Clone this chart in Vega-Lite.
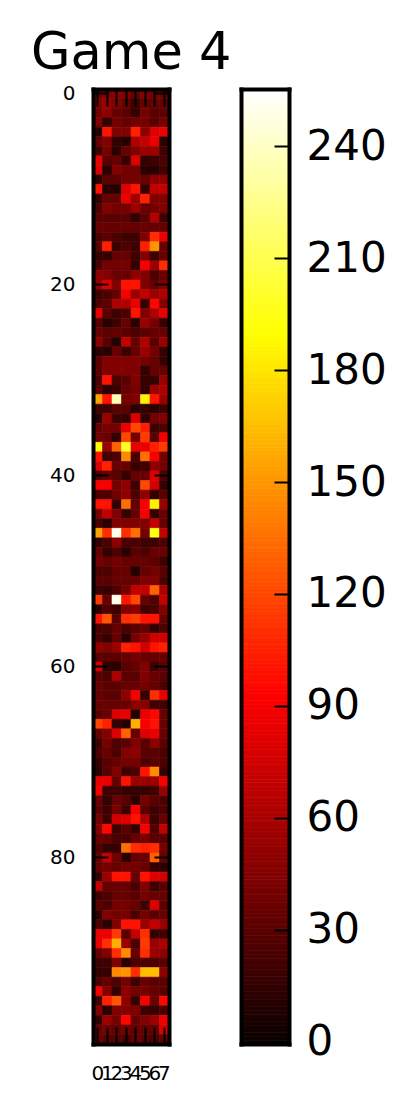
{"$schema":"https://vega.github.io/schema/vega-lite/v6.json","background":"white","padding":{"left":31,"top":28,"right":5,"bottom":5},"config":{"view":{"stroke":null},"font":"DejaVu Sans","axis":{"labelFont":"DejaVu Sans","labelColor":"black","tickColor":"black","domainColor":"black","domainCap":"square","labelOverlap":false,"labelBound":false}},"bounds":"flush","spacing":72,"datasets":{"cells":[
{"r":0,"c":0,"v":40},{"r":0,"c":1,"v":45},{"r":0,"c":2,"v":50},{"r":0,"c":3,"v":45},{"r":0,"c":4,"v":35},{"r":0,"c":5,"v":45},{"r":0,"c":6,"v":40},{"r":0,"c":7,"v":40},
{"r":1,"c":0,"v":45},{"r":1,"c":1,"v":55},{"r":1,"c":2,"v":45},{"r":1,"c":3,"v":35},{"r":1,"c":4,"v":20},{"r":1,"c":5,"v":35},{"r":1,"c":6,"v":35},{"r":1,"c":7,"v":35},
{"r":2,"c":0,"v":40},{"r":2,"c":1,"v":50},{"r":2,"c":2,"v":35},{"r":2,"c":3,"v":30},{"r":2,"c":4,"v":16},{"r":2,"c":5,"v":40},{"r":2,"c":6,"v":30},{"r":2,"c":7,"v":30},
{"r":3,"c":0,"v":45},{"r":3,"c":1,"v":16},{"r":3,"c":2,"v":40},{"r":3,"c":3,"v":35},{"r":3,"c":4,"v":40},{"r":3,"c":5,"v":40},{"r":3,"c":6,"v":30},{"r":3,"c":7,"v":40},
{"r":4,"c":0,"v":10},{"r":4,"c":1,"v":100},{"r":4,"c":2,"v":45},{"r":4,"c":3,"v":45},{"r":4,"c":4,"v":105},{"r":4,"c":5,"v":50},{"r":4,"c":6,"v":80},{"r":4,"c":7,"v":85},
{"r":5,"c":0,"v":35},{"r":5,"c":1,"v":45},{"r":5,"c":2,"v":16},{"r":5,"c":3,"v":10},{"r":5,"c":4,"v":62},{"r":5,"c":5,"v":70},{"r":5,"c":6,"v":85},{"r":5,"c":7,"v":12},
{"r":6,"c":0,"v":20},{"r":6,"c":1,"v":40},{"r":6,"c":2,"v":12},{"r":6,"c":3,"v":35},{"r":6,"c":4,"v":45},{"r":6,"c":5,"v":55},{"r":6,"c":6,"v":55},{"r":6,"c":7,"v":20},
{"r":7,"c":0,"v":85},{"r":7,"c":1,"v":30},{"r":7,"c":2,"v":35},{"r":7,"c":3,"v":16},{"r":7,"c":4,"v":80},{"r":7,"c":5,"v":16},{"r":7,"c":6,"v":20},{"r":7,"c":7,"v":25},
{"r":8,"c":0,"v":80},{"r":8,"c":1,"v":12},{"r":8,"c":2,"v":45},{"r":8,"c":3,"v":40},{"r":8,"c":4,"v":40},{"r":8,"c":5,"v":12},{"r":8,"c":6,"v":12},{"r":8,"c":7,"v":20},
{"r":9,"c":0,"v":12},{"r":9,"c":1,"v":30},{"r":9,"c":2,"v":30},{"r":9,"c":3,"v":40},{"r":9,"c":4,"v":40},{"r":9,"c":5,"v":35},{"r":9,"c":6,"v":50},{"r":9,"c":7,"v":50},
{"r":10,"c":0,"v":100},{"r":10,"c":1,"v":12},{"r":10,"c":2,"v":10},{"r":10,"c":3,"v":80},{"r":10,"c":4,"v":100},{"r":10,"c":5,"v":16},{"r":10,"c":6,"v":70},{"r":10,"c":7,"v":70},
{"r":11,"c":0,"v":16},{"r":11,"c":1,"v":35},{"r":11,"c":2,"v":35},{"r":11,"c":3,"v":85},{"r":11,"c":4,"v":55},{"r":11,"c":5,"v":105},{"r":11,"c":6,"v":45},{"r":11,"c":7,"v":45},
{"r":12,"c":0,"v":25},{"r":12,"c":1,"v":45},{"r":12,"c":2,"v":40},{"r":12,"c":3,"v":40},{"r":12,"c":4,"v":55},{"r":12,"c":5,"v":35},{"r":12,"c":6,"v":40},{"r":12,"c":7,"v":45},
{"r":13,"c":0,"v":30},{"r":13,"c":1,"v":30},{"r":13,"c":2,"v":30},{"r":13,"c":3,"v":30},{"r":13,"c":4,"v":16},{"r":13,"c":5,"v":30},{"r":13,"c":6,"v":62},{"r":13,"c":7,"v":20},
{"r":14,"c":0,"v":35},{"r":14,"c":1,"v":35},{"r":14,"c":2,"v":35},{"r":14,"c":3,"v":35},{"r":14,"c":4,"v":35},{"r":14,"c":5,"v":35},{"r":14,"c":6,"v":35},{"r":14,"c":7,"v":35},
{"r":15,"c":0,"v":25},{"r":15,"c":1,"v":30},{"r":15,"c":2,"v":25},{"r":15,"c":3,"v":20},{"r":15,"c":4,"v":20},{"r":15,"c":5,"v":45},{"r":15,"c":6,"v":110},{"r":15,"c":7,"v":85},
{"r":16,"c":0,"v":30},{"r":16,"c":1,"v":105},{"r":16,"c":2,"v":20},{"r":16,"c":3,"v":25},{"r":16,"c":4,"v":20},{"r":16,"c":5,"v":105},{"r":16,"c":6,"v":150},{"r":16,"c":7,"v":35},
{"r":17,"c":0,"v":16},{"r":17,"c":1,"v":16},{"r":17,"c":2,"v":35},{"r":17,"c":3,"v":35},{"r":17,"c":4,"v":20},{"r":17,"c":5,"v":45},{"r":17,"c":6,"v":20},{"r":17,"c":7,"v":35},
{"r":18,"c":0,"v":25},{"r":18,"c":1,"v":40},{"r":18,"c":2,"v":40},{"r":18,"c":3,"v":40},{"r":18,"c":4,"v":16},{"r":18,"c":5,"v":90},{"r":18,"c":6,"v":55},{"r":18,"c":7,"v":110},
{"r":19,"c":0,"v":50},{"r":19,"c":1,"v":45},{"r":19,"c":2,"v":35},{"r":19,"c":3,"v":35},{"r":19,"c":4,"v":50},{"r":19,"c":5,"v":45},{"r":19,"c":6,"v":25},{"r":19,"c":7,"v":35},
{"r":20,"c":0,"v":55},{"r":20,"c":1,"v":80},{"r":20,"c":2,"v":45},{"r":20,"c":3,"v":100},{"r":20,"c":4,"v":100},{"r":20,"c":5,"v":45},{"r":20,"c":6,"v":35},{"r":20,"c":7,"v":45},
{"r":21,"c":0,"v":20},{"r":21,"c":1,"v":25},{"r":21,"c":2,"v":35},{"r":21,"c":3,"v":90},{"r":21,"c":4,"v":55},{"r":21,"c":5,"v":70},{"r":21,"c":6,"v":55},{"r":21,"c":7,"v":62},
{"r":22,"c":0,"v":25},{"r":22,"c":1,"v":30},{"r":22,"c":2,"v":62},{"r":22,"c":3,"v":62},{"r":22,"c":4,"v":85},{"r":22,"c":5,"v":16},{"r":22,"c":6,"v":95},{"r":22,"c":7,"v":45},
{"r":23,"c":0,"v":85},{"r":23,"c":1,"v":30},{"r":23,"c":2,"v":20},{"r":23,"c":3,"v":25},{"r":23,"c":4,"v":100},{"r":23,"c":5,"v":45},{"r":23,"c":6,"v":62},{"r":23,"c":7,"v":85},
{"r":24,"c":0,"v":30},{"r":24,"c":1,"v":12},{"r":24,"c":2,"v":20},{"r":24,"c":3,"v":35},{"r":24,"c":4,"v":12},{"r":24,"c":5,"v":55},{"r":24,"c":6,"v":40},{"r":24,"c":7,"v":16},
{"r":25,"c":0,"v":35},{"r":25,"c":1,"v":30},{"r":25,"c":2,"v":35},{"r":25,"c":3,"v":30},{"r":25,"c":4,"v":25},{"r":25,"c":5,"v":30},{"r":25,"c":6,"v":35},{"r":25,"c":7,"v":35},
{"r":26,"c":0,"v":50},{"r":26,"c":1,"v":30},{"r":26,"c":2,"v":10},{"r":26,"c":3,"v":70},{"r":26,"c":4,"v":35},{"r":26,"c":5,"v":62},{"r":26,"c":6,"v":30},{"r":26,"c":7,"v":55},
{"r":27,"c":0,"v":12},{"r":27,"c":1,"v":12},{"r":27,"c":2,"v":35},{"r":27,"c":3,"v":20},{"r":27,"c":4,"v":35},{"r":27,"c":5,"v":55},{"r":27,"c":6,"v":40},{"r":27,"c":7,"v":16},
{"r":28,"c":0,"v":30},{"r":28,"c":1,"v":45},{"r":28,"c":2,"v":45},{"r":28,"c":3,"v":45},{"r":28,"c":4,"v":45},{"r":28,"c":5,"v":40},{"r":28,"c":6,"v":35},{"r":28,"c":7,"v":16},
{"r":29,"c":0,"v":30},{"r":29,"c":1,"v":45},{"r":29,"c":2,"v":45},{"r":29,"c":3,"v":45},{"r":29,"c":4,"v":45},{"r":29,"c":5,"v":16},{"r":29,"c":6,"v":35},{"r":29,"c":7,"v":35},
{"r":30,"c":0,"v":25},{"r":30,"c":1,"v":100},{"r":30,"c":2,"v":25},{"r":30,"c":3,"v":30},{"r":30,"c":4,"v":45},{"r":30,"c":5,"v":16},{"r":30,"c":6,"v":16},{"r":30,"c":7,"v":55},
{"r":31,"c":0,"v":30},{"r":31,"c":1,"v":12},{"r":31,"c":2,"v":20},{"r":31,"c":3,"v":35},{"r":31,"c":4,"v":40},{"r":31,"c":5,"v":16},{"r":31,"c":6,"v":55},{"r":31,"c":7,"v":62},
{"r":32,"c":0,"v":155},{"r":32,"c":1,"v":100},{"r":32,"c":2,"v":235},{"r":32,"c":3,"v":40},{"r":32,"c":4,"v":45},{"r":32,"c":5,"v":185},{"r":32,"c":6,"v":100},{"r":32,"c":7,"v":55},
{"r":33,"c":0,"v":20},{"r":33,"c":1,"v":20},{"r":33,"c":2,"v":30},{"r":33,"c":3,"v":30},{"r":33,"c":4,"v":12},{"r":33,"c":5,"v":16},{"r":33,"c":6,"v":12},{"r":33,"c":7,"v":20},
{"r":34,"c":0,"v":10},{"r":34,"c":1,"v":55},{"r":34,"c":2,"v":20},{"r":34,"c":3,"v":16},{"r":34,"c":4,"v":80},{"r":34,"c":5,"v":16},{"r":34,"c":6,"v":40},{"r":34,"c":7,"v":45},
{"r":35,"c":0,"v":35},{"r":35,"c":1,"v":40},{"r":35,"c":2,"v":40},{"r":35,"c":3,"v":85},{"r":35,"c":4,"v":120},{"r":35,"c":5,"v":105},{"r":35,"c":6,"v":20},{"r":35,"c":7,"v":25},
{"r":36,"c":0,"v":40},{"r":36,"c":1,"v":35},{"r":36,"c":2,"v":16},{"r":36,"c":3,"v":120},{"r":36,"c":4,"v":40},{"r":36,"c":5,"v":115},{"r":36,"c":6,"v":30},{"r":36,"c":7,"v":90},
{"r":37,"c":0,"v":190},{"r":37,"c":1,"v":55},{"r":37,"c":2,"v":130},{"r":37,"c":3,"v":200},{"r":37,"c":4,"v":85},{"r":37,"c":5,"v":85},{"r":37,"c":6,"v":105},{"r":37,"c":7,"v":115},
{"r":38,"c":0,"v":100},{"r":38,"c":1,"v":20},{"r":38,"c":2,"v":25},{"r":38,"c":3,"v":145},{"r":38,"c":4,"v":25},{"r":38,"c":5,"v":135},{"r":38,"c":6,"v":90},{"r":38,"c":7,"v":40},
{"r":39,"c":0,"v":80},{"r":39,"c":1,"v":105},{"r":39,"c":2,"v":35},{"r":39,"c":3,"v":35},{"r":39,"c":4,"v":16},{"r":39,"c":5,"v":20},{"r":39,"c":6,"v":50},{"r":39,"c":7,"v":40},
{"r":40,"c":0,"v":25},{"r":40,"c":1,"v":35},{"r":40,"c":2,"v":30},{"r":40,"c":3,"v":16},{"r":40,"c":4,"v":35},{"r":40,"c":5,"v":35},{"r":40,"c":6,"v":80},{"r":40,"c":7,"v":25},
{"r":41,"c":0,"v":90},{"r":41,"c":1,"v":90},{"r":41,"c":2,"v":40},{"r":41,"c":3,"v":50},{"r":41,"c":4,"v":20},{"r":41,"c":5,"v":120},{"r":41,"c":6,"v":75},{"r":41,"c":7,"v":16},
{"r":42,"c":0,"v":25},{"r":42,"c":1,"v":25},{"r":42,"c":2,"v":40},{"r":42,"c":3,"v":50},{"r":42,"c":4,"v":25},{"r":42,"c":5,"v":50},{"r":42,"c":6,"v":16},{"r":42,"c":7,"v":30},
{"r":43,"c":0,"v":100},{"r":43,"c":1,"v":100},{"r":43,"c":2,"v":16},{"r":43,"c":3,"v":135},{"r":43,"c":4,"v":35},{"r":43,"c":5,"v":90},{"r":43,"c":6,"v":185},{"r":43,"c":7,"v":55},
{"r":44,"c":0,"v":40},{"r":44,"c":1,"v":70},{"r":44,"c":2,"v":45},{"r":44,"c":3,"v":16},{"r":44,"c":4,"v":35},{"r":44,"c":5,"v":90},{"r":44,"c":6,"v":16},{"r":44,"c":7,"v":35},
{"r":45,"c":0,"v":25},{"r":45,"c":1,"v":12},{"r":45,"c":2,"v":45},{"r":45,"c":3,"v":45},{"r":45,"c":4,"v":45},{"r":45,"c":5,"v":45},{"r":45,"c":6,"v":70},{"r":45,"c":7,"v":35},
{"r":46,"c":0,"v":155},{"r":46,"c":1,"v":110},{"r":46,"c":2,"v":250},{"r":46,"c":3,"v":110},{"r":46,"c":4,"v":135},{"r":46,"c":5,"v":40},{"r":46,"c":6,"v":195},{"r":46,"c":7,"v":70},
{"r":47,"c":0,"v":16},{"r":47,"c":1,"v":25},{"r":47,"c":2,"v":50},{"r":47,"c":3,"v":25},{"r":47,"c":4,"v":25},{"r":47,"c":5,"v":20},{"r":47,"c":6,"v":20},{"r":47,"c":7,"v":25},
{"r":48,"c":0,"v":35},{"r":48,"c":1,"v":16},{"r":48,"c":2,"v":25},{"r":48,"c":3,"v":12},{"r":48,"c":4,"v":30},{"r":48,"c":5,"v":25},{"r":48,"c":6,"v":35},{"r":48,"c":7,"v":35},
{"r":49,"c":0,"v":40},{"r":49,"c":1,"v":35},{"r":49,"c":2,"v":40},{"r":49,"c":3,"v":35},{"r":49,"c":4,"v":35},{"r":49,"c":5,"v":35},{"r":49,"c":6,"v":30},{"r":49,"c":7,"v":20},
{"r":50,"c":0,"v":25},{"r":50,"c":1,"v":25},{"r":50,"c":2,"v":35},{"r":50,"c":3,"v":35},{"r":50,"c":4,"v":10},{"r":50,"c":5,"v":35},{"r":50,"c":6,"v":40},{"r":50,"c":7,"v":30},
{"r":51,"c":0,"v":30},{"r":51,"c":1,"v":30},{"r":51,"c":2,"v":35},{"r":51,"c":3,"v":35},{"r":51,"c":4,"v":35},{"r":51,"c":5,"v":45},{"r":51,"c":6,"v":45},{"r":51,"c":7,"v":25},
{"r":52,"c":0,"v":20},{"r":52,"c":1,"v":16},{"r":52,"c":2,"v":25},{"r":52,"c":3,"v":40},{"r":52,"c":4,"v":70},{"r":52,"c":5,"v":70},{"r":52,"c":6,"v":130},{"r":52,"c":7,"v":62},
{"r":53,"c":0,"v":115},{"r":53,"c":1,"v":35},{"r":53,"c":2,"v":250},{"r":53,"c":3,"v":100},{"r":53,"c":4,"v":120},{"r":53,"c":5,"v":35},{"r":53,"c":6,"v":25},{"r":53,"c":7,"v":70},
{"r":54,"c":0,"v":12},{"r":54,"c":1,"v":25},{"r":54,"c":2,"v":20},{"r":54,"c":3,"v":45},{"r":54,"c":4,"v":50},{"r":54,"c":5,"v":20},{"r":54,"c":6,"v":25},{"r":54,"c":7,"v":45},
{"r":55,"c":0,"v":100},{"r":55,"c":1,"v":125},{"r":55,"c":2,"v":30},{"r":55,"c":3,"v":110},{"r":55,"c":4,"v":115},{"r":55,"c":5,"v":100},{"r":55,"c":6,"v":100},{"r":55,"c":7,"v":35},
{"r":56,"c":0,"v":25},{"r":56,"c":1,"v":25},{"r":56,"c":2,"v":35},{"r":56,"c":3,"v":25},{"r":56,"c":4,"v":30},{"r":56,"c":5,"v":35},{"r":56,"c":6,"v":16},{"r":56,"c":7,"v":25},
{"r":57,"c":0,"v":25},{"r":57,"c":1,"v":16},{"r":57,"c":2,"v":35},{"r":57,"c":3,"v":12},{"r":57,"c":4,"v":40},{"r":57,"c":5,"v":55},{"r":57,"c":6,"v":75},{"r":57,"c":7,"v":75},
{"r":58,"c":0,"v":50},{"r":58,"c":1,"v":45},{"r":58,"c":2,"v":55},{"r":58,"c":3,"v":105},{"r":58,"c":4,"v":100},{"r":58,"c":5,"v":75},{"r":58,"c":6,"v":100},{"r":58,"c":7,"v":105},
{"r":59,"c":0,"v":30},{"r":59,"c":1,"v":30},{"r":59,"c":2,"v":30},{"r":59,"c":3,"v":35},{"r":59,"c":4,"v":40},{"r":59,"c":5,"v":35},{"r":59,"c":6,"v":35},{"r":59,"c":7,"v":35},
{"r":60,"c":0,"v":75},{"r":60,"c":1,"v":16},{"r":60,"c":2,"v":12},{"r":60,"c":3,"v":30},{"r":60,"c":4,"v":35},{"r":60,"c":5,"v":45},{"r":60,"c":6,"v":20},{"r":60,"c":7,"v":30},
{"r":61,"c":0,"v":30},{"r":61,"c":1,"v":25},{"r":61,"c":2,"v":62},{"r":61,"c":3,"v":30},{"r":61,"c":4,"v":30},{"r":61,"c":5,"v":45},{"r":61,"c":6,"v":35},{"r":61,"c":7,"v":30},
{"r":62,"c":0,"v":35},{"r":62,"c":1,"v":30},{"r":62,"c":2,"v":30},{"r":62,"c":3,"v":35},{"r":62,"c":4,"v":35},{"r":62,"c":5,"v":40},{"r":62,"c":6,"v":35},{"r":62,"c":7,"v":25},
{"r":63,"c":0,"v":35},{"r":63,"c":1,"v":30},{"r":63,"c":2,"v":30},{"r":63,"c":3,"v":50},{"r":63,"c":4,"v":90},{"r":63,"c":5,"v":16},{"r":63,"c":6,"v":110},{"r":63,"c":7,"v":85},
{"r":64,"c":0,"v":35},{"r":64,"c":1,"v":35},{"r":64,"c":2,"v":35},{"r":64,"c":3,"v":35},{"r":64,"c":4,"v":50},{"r":64,"c":5,"v":45},{"r":64,"c":6,"v":20},{"r":64,"c":7,"v":20},
{"r":65,"c":0,"v":30},{"r":65,"c":1,"v":35},{"r":65,"c":2,"v":80},{"r":65,"c":3,"v":85},{"r":65,"c":4,"v":10},{"r":65,"c":5,"v":85},{"r":65,"c":6,"v":95},{"r":65,"c":7,"v":35},
{"r":66,"c":0,"v":120},{"r":66,"c":1,"v":105},{"r":66,"c":2,"v":16},{"r":66,"c":3,"v":10},{"r":66,"c":4,"v":160},{"r":66,"c":5,"v":90},{"r":66,"c":6,"v":100},{"r":66,"c":7,"v":35},
{"r":67,"c":0,"v":35},{"r":67,"c":1,"v":45},{"r":67,"c":2,"v":80},{"r":67,"c":3,"v":130},{"r":67,"c":4,"v":35},{"r":67,"c":5,"v":80},{"r":67,"c":6,"v":85},{"r":67,"c":7,"v":35},
{"r":68,"c":0,"v":20},{"r":68,"c":1,"v":40},{"r":68,"c":2,"v":25},{"r":68,"c":3,"v":30},{"r":68,"c":4,"v":45},{"r":68,"c":5,"v":30},{"r":68,"c":6,"v":50},{"r":68,"c":7,"v":30},
{"r":69,"c":0,"v":25},{"r":69,"c":1,"v":35},{"r":69,"c":2,"v":25},{"r":69,"c":3,"v":45},{"r":69,"c":4,"v":50},{"r":69,"c":5,"v":30},{"r":69,"c":6,"v":30},{"r":69,"c":7,"v":25},
{"r":70,"c":0,"v":16},{"r":70,"c":1,"v":30},{"r":70,"c":2,"v":35},{"r":70,"c":3,"v":40},{"r":70,"c":4,"v":40},{"r":70,"c":5,"v":25},{"r":70,"c":6,"v":30},{"r":70,"c":7,"v":25},
{"r":71,"c":0,"v":12},{"r":71,"c":1,"v":30},{"r":71,"c":2,"v":45},{"r":71,"c":3,"v":20},{"r":71,"c":4,"v":25},{"r":71,"c":5,"v":100},{"r":71,"c":6,"v":145},{"r":71,"c":7,"v":16},
{"r":72,"c":0,"v":85},{"r":72,"c":1,"v":85},{"r":72,"c":2,"v":35},{"r":72,"c":3,"v":100},{"r":72,"c":4,"v":55},{"r":72,"c":5,"v":55},{"r":72,"c":6,"v":55},{"r":72,"c":7,"v":90},
{"r":73,"c":0,"v":90},{"r":73,"c":1,"v":20},{"r":73,"c":2,"v":20},{"r":73,"c":3,"v":16},{"r":73,"c":4,"v":16},{"r":73,"c":5,"v":16},{"r":73,"c":6,"v":20},{"r":73,"c":7,"v":55},
{"r":74,"c":0,"v":35},{"r":74,"c":1,"v":16},{"r":74,"c":2,"v":35},{"r":74,"c":3,"v":30},{"r":74,"c":4,"v":12},{"r":74,"c":5,"v":40},{"r":74,"c":6,"v":30},{"r":74,"c":7,"v":25},
{"r":75,"c":0,"v":30},{"r":75,"c":1,"v":20},{"r":75,"c":2,"v":40},{"r":75,"c":3,"v":20},{"r":75,"c":4,"v":90},{"r":75,"c":5,"v":30},{"r":75,"c":6,"v":20},{"r":75,"c":7,"v":25},
{"r":76,"c":0,"v":40},{"r":76,"c":1,"v":20},{"r":76,"c":2,"v":75},{"r":76,"c":3,"v":80},{"r":76,"c":4,"v":100},{"r":76,"c":5,"v":62},{"r":76,"c":6,"v":20},{"r":76,"c":7,"v":35},
{"r":77,"c":0,"v":45},{"r":77,"c":1,"v":95},{"r":77,"c":2,"v":20},{"r":77,"c":3,"v":30},{"r":77,"c":4,"v":16},{"r":77,"c":5,"v":90},{"r":77,"c":6,"v":25},{"r":77,"c":7,"v":70},
{"r":78,"c":0,"v":35},{"r":78,"c":1,"v":35},{"r":78,"c":2,"v":25},{"r":78,"c":3,"v":25},{"r":78,"c":4,"v":35},{"r":78,"c":5,"v":40},{"r":78,"c":6,"v":30},{"r":78,"c":7,"v":30},
{"r":79,"c":0,"v":25},{"r":79,"c":1,"v":16},{"r":79,"c":2,"v":16},{"r":79,"c":3,"v":135},{"r":79,"c":4,"v":110},{"r":79,"c":5,"v":105},{"r":79,"c":6,"v":110},{"r":79,"c":7,"v":40},
{"r":80,"c":0,"v":35},{"r":80,"c":1,"v":70},{"r":80,"c":2,"v":40},{"r":80,"c":3,"v":12},{"r":80,"c":4,"v":35},{"r":80,"c":5,"v":35},{"r":80,"c":6,"v":130},{"r":80,"c":7,"v":35},
{"r":81,"c":0,"v":35},{"r":81,"c":1,"v":40},{"r":81,"c":2,"v":35},{"r":81,"c":3,"v":40},{"r":81,"c":4,"v":40},{"r":81,"c":5,"v":35},{"r":81,"c":6,"v":16},{"r":81,"c":7,"v":12},
{"r":82,"c":0,"v":16},{"r":82,"c":1,"v":55},{"r":82,"c":2,"v":100},{"r":82,"c":3,"v":100},{"r":82,"c":4,"v":35},{"r":82,"c":5,"v":100},{"r":82,"c":6,"v":80},{"r":82,"c":7,"v":75},
{"r":83,"c":0,"v":70},{"r":83,"c":1,"v":35},{"r":83,"c":2,"v":35},{"r":83,"c":3,"v":35},{"r":83,"c":4,"v":25},{"r":83,"c":5,"v":45},{"r":83,"c":6,"v":20},{"r":83,"c":7,"v":30},
{"r":84,"c":0,"v":20},{"r":84,"c":1,"v":25},{"r":84,"c":2,"v":35},{"r":84,"c":3,"v":35},{"r":84,"c":4,"v":30},{"r":84,"c":5,"v":40},{"r":84,"c":6,"v":35},{"r":84,"c":7,"v":35},
{"r":85,"c":0,"v":30},{"r":85,"c":1,"v":25},{"r":85,"c":2,"v":40},{"r":85,"c":3,"v":40},{"r":85,"c":4,"v":35},{"r":85,"c":5,"v":20},{"r":85,"c":6,"v":80},{"r":85,"c":7,"v":30},
{"r":86,"c":0,"v":12},{"r":86,"c":1,"v":45},{"r":86,"c":2,"v":40},{"r":86,"c":3,"v":40},{"r":86,"c":4,"v":25},{"r":86,"c":5,"v":40},{"r":86,"c":6,"v":30},{"r":86,"c":7,"v":35},
{"r":87,"c":0,"v":25},{"r":87,"c":1,"v":12},{"r":87,"c":2,"v":45},{"r":87,"c":3,"v":100},{"r":87,"c":4,"v":100},{"r":87,"c":5,"v":55},{"r":87,"c":6,"v":70},{"r":87,"c":7,"v":55},
{"r":88,"c":0,"v":85},{"r":88,"c":1,"v":85},{"r":88,"c":2,"v":115},{"r":88,"c":3,"v":30},{"r":88,"c":4,"v":70},{"r":88,"c":5,"v":110},{"r":88,"c":6,"v":16},{"r":88,"c":7,"v":20},
{"r":89,"c":0,"v":85},{"r":89,"c":1,"v":110},{"r":89,"c":2,"v":160},{"r":89,"c":3,"v":55},{"r":89,"c":4,"v":25},{"r":89,"c":5,"v":115},{"r":89,"c":6,"v":55},{"r":89,"c":7,"v":62},
{"r":90,"c":0,"v":35},{"r":90,"c":1,"v":45},{"r":90,"c":2,"v":110},{"r":90,"c":3,"v":145},{"r":90,"c":4,"v":35},{"r":90,"c":5,"v":110},{"r":90,"c":6,"v":55},{"r":90,"c":7,"v":50},
{"r":91,"c":0,"v":20},{"r":91,"c":1,"v":20},{"r":91,"c":2,"v":45},{"r":91,"c":3,"v":12},{"r":91,"c":4,"v":25},{"r":91,"c":5,"v":25},{"r":91,"c":6,"v":25},{"r":91,"c":7,"v":30},
{"r":92,"c":0,"v":16},{"r":92,"c":1,"v":16},{"r":92,"c":2,"v":145},{"r":92,"c":3,"v":150},{"r":92,"c":4,"v":110},{"r":92,"c":5,"v":165},{"r":92,"c":6,"v":165},{"r":92,"c":7,"v":50},
{"r":93,"c":0,"v":25},{"r":93,"c":1,"v":35},{"r":93,"c":2,"v":25},{"r":93,"c":3,"v":40},{"r":93,"c":4,"v":20},{"r":93,"c":5,"v":35},{"r":93,"c":6,"v":30},{"r":93,"c":7,"v":30},
{"r":94,"c":0,"v":90},{"r":94,"c":1,"v":45},{"r":94,"c":2,"v":16},{"r":94,"c":3,"v":50},{"r":94,"c":4,"v":40},{"r":94,"c":5,"v":40},{"r":94,"c":6,"v":35},{"r":94,"c":7,"v":30},
{"r":95,"c":0,"v":20},{"r":95,"c":1,"v":105},{"r":95,"c":2,"v":125},{"r":95,"c":3,"v":50},{"r":95,"c":4,"v":16},{"r":95,"c":5,"v":90},{"r":95,"c":6,"v":35},{"r":95,"c":7,"v":95},
{"r":96,"c":0,"v":45},{"r":96,"c":1,"v":12},{"r":96,"c":2,"v":45},{"r":96,"c":3,"v":45},{"r":96,"c":4,"v":45},{"r":96,"c":5,"v":20},{"r":96,"c":6,"v":16},{"r":96,"c":7,"v":25},
{"r":97,"c":0,"v":16},{"r":97,"c":1,"v":55},{"r":97,"c":2,"v":40},{"r":97,"c":3,"v":95},{"r":97,"c":4,"v":35},{"r":97,"c":5,"v":45},{"r":97,"c":6,"v":55},{"r":97,"c":7,"v":85},
{"r":98,"c":0,"v":35},{"r":98,"c":1,"v":40},{"r":98,"c":2,"v":35},{"r":98,"c":3,"v":40},{"r":98,"c":4,"v":35},{"r":98,"c":5,"v":35},{"r":98,"c":6,"v":35},{"r":98,"c":7,"v":80},
{"r":99,"c":0,"v":35},{"r":99,"c":1,"v":30},{"r":99,"c":2,"v":30},{"r":99,"c":3,"v":25},{"r":99,"c":4,"v":35},{"r":99,"c":5,"v":30},{"r":99,"c":6,"v":25},{"r":99,"c":7,"v":35}
],"bar":[{"k":0,"v":0},{"k":0,"v":1},{"k":0,"v":2},{"k":0,"v":3},{"k":0,"v":4},{"k":0,"v":5},{"k":0,"v":6},{"k":0,"v":7},{"k":0,"v":8},{"k":0,"v":9},{"k":0,"v":10},{"k":0,"v":11},{"k":0,"v":12},{"k":0,"v":13},{"k":0,"v":14},{"k":0,"v":15},{"k":0,"v":16},{"k":0,"v":17},{"k":0,"v":18},{"k":0,"v":19},{"k":0,"v":20},{"k":0,"v":21},{"k":0,"v":22},{"k":0,"v":23},{"k":0,"v":24},{"k":0,"v":25},{"k":0,"v":26},{"k":0,"v":27},{"k":0,"v":28},{"k":0,"v":29},{"k":0,"v":30},{"k":0,"v":31},{"k":0,"v":32},{"k":0,"v":33},{"k":0,"v":34},{"k":0,"v":35},{"k":0,"v":36},{"k":0,"v":37},{"k":0,"v":38},{"k":0,"v":39},{"k":0,"v":40},{"k":0,"v":41},{"k":0,"v":42},{"k":0,"v":43},{"k":0,"v":44},{"k":0,"v":45},{"k":0,"v":46},{"k":0,"v":47},{"k":0,"v":48},{"k":0,"v":49},{"k":0,"v":50},{"k":0,"v":51},{"k":0,"v":52},{"k":0,"v":53},{"k":0,"v":54},{"k":0,"v":55},{"k":0,"v":56},{"k":0,"v":57},{"k":0,"v":58},{"k":0,"v":59},{"k":0,"v":60},{"k":0,"v":61},{"k":0,"v":62},{"k":0,"v":63},{"k":0,"v":64},{"k":0,"v":65},{"k":0,"v":66},{"k":0,"v":67},{"k":0,"v":68},{"k":0,"v":69},{"k":0,"v":70},{"k":0,"v":71},{"k":0,"v":72},{"k":0,"v":73},{"k":0,"v":74},{"k":0,"v":75},{"k":0,"v":76},{"k":0,"v":77},{"k":0,"v":78},{"k":0,"v":79},{"k":0,"v":80},{"k":0,"v":81},{"k":0,"v":82},{"k":0,"v":83},{"k":0,"v":84},{"k":0,"v":85},{"k":0,"v":86},{"k":0,"v":87},{"k":0,"v":88},{"k":0,"v":89},{"k":0,"v":90},{"k":0,"v":91},{"k":0,"v":92},{"k":0,"v":93},{"k":0,"v":94},{"k":0,"v":95},{"k":0,"v":96},{"k":0,"v":97},{"k":0,"v":98},{"k":0,"v":99},{"k":0,"v":100},{"k":0,"v":101},{"k":0,"v":102},{"k":0,"v":103},{"k":0,"v":104},{"k":0,"v":105},{"k":0,"v":106},{"k":0,"v":107},{"k":0,"v":108},{"k":0,"v":109},{"k":0,"v":110},{"k":0,"v":111},{"k":0,"v":112},{"k":0,"v":113},{"k":0,"v":114},{"k":0,"v":115},{"k":0,"v":116},{"k":0,"v":117},{"k":0,"v":118},{"k":0,"v":119},{"k":0,"v":120},{"k":0,"v":121},{"k":0,"v":122},{"k":0,"v":123},{"k":0,"v":124},{"k":0,"v":125},{"k":0,"v":126},{"k":0,"v":127},{"k":0,"v":128},{"k":0,"v":129},{"k":0,"v":130},{"k":0,"v":131},{"k":0,"v":132},{"k":0,"v":133},{"k":0,"v":134},{"k":0,"v":135},{"k":0,"v":136},{"k":0,"v":137},{"k":0,"v":138},{"k":0,"v":139},{"k":0,"v":140},{"k":0,"v":141},{"k":0,"v":142},{"k":0,"v":143},{"k":0,"v":144},{"k":0,"v":145},{"k":0,"v":146},{"k":0,"v":147},{"k":0,"v":148},{"k":0,"v":149},{"k":0,"v":150},{"k":0,"v":151},{"k":0,"v":152},{"k":0,"v":153},{"k":0,"v":154},{"k":0,"v":155},{"k":0,"v":156},{"k":0,"v":157},{"k":0,"v":158},{"k":0,"v":159},{"k":0,"v":160},{"k":0,"v":161},{"k":0,"v":162},{"k":0,"v":163},{"k":0,"v":164},{"k":0,"v":165},{"k":0,"v":166},{"k":0,"v":167},{"k":0,"v":168},{"k":0,"v":169},{"k":0,"v":170},{"k":0,"v":171},{"k":0,"v":172},{"k":0,"v":173},{"k":0,"v":174},{"k":0,"v":175},{"k":0,"v":176},{"k":0,"v":177},{"k":0,"v":178},{"k":0,"v":179},{"k":0,"v":180},{"k":0,"v":181},{"k":0,"v":182},{"k":0,"v":183},{"k":0,"v":184},{"k":0,"v":185},{"k":0,"v":186},{"k":0,"v":187},{"k":0,"v":188},{"k":0,"v":189},{"k":0,"v":190},{"k":0,"v":191},{"k":0,"v":192},{"k":0,"v":193},{"k":0,"v":194},{"k":0,"v":195},{"k":0,"v":196},{"k":0,"v":197},{"k":0,"v":198},{"k":0,"v":199},{"k":0,"v":200},{"k":0,"v":201},{"k":0,"v":202},{"k":0,"v":203},{"k":0,"v":204},{"k":0,"v":205},{"k":0,"v":206},{"k":0,"v":207},{"k":0,"v":208},{"k":0,"v":209},{"k":0,"v":210},{"k":0,"v":211},{"k":0,"v":212},{"k":0,"v":213},{"k":0,"v":214},{"k":0,"v":215},{"k":0,"v":216},{"k":0,"v":217},{"k":0,"v":218},{"k":0,"v":219},{"k":0,"v":220},{"k":0,"v":221},{"k":0,"v":222},{"k":0,"v":223},{"k":0,"v":224},{"k":0,"v":225},{"k":0,"v":226},{"k":0,"v":227},{"k":0,"v":228},{"k":0,"v":229},{"k":0,"v":230},{"k":0,"v":231},{"k":0,"v":232},{"k":0,"v":233},{"k":0,"v":234},{"k":0,"v":235},{"k":0,"v":236},{"k":0,"v":237},{"k":0,"v":238},{"k":0,"v":239},{"k":0,"v":240},{"k":0,"v":241},{"k":0,"v":242},{"k":0,"v":243},{"k":0,"v":244},{"k":0,"v":245},{"k":0,"v":246},{"k":0,"v":247},{"k":0,"v":248},{"k":0,"v":249},{"k":0,"v":250},{"k":0,"v":251},{"k":0,"v":252},{"k":0,"v":253},{"k":0,"v":254},{"k":0,"v":255}]},
"hconcat":[
{"width":76,"height":955,"data":{"name":"cells"},
"title":{"text":"Game 4","font":"DejaVu Sans","fontSize":51,"fontWeight":"normal","color":"black","anchor":"start","frame":"group","dx":-62,"offset":3},
"resolve":{"scale":{"x":"independent","y":"independent"},"axis":{"x":"independent","y":"independent"}},
"layer":[
{"mark":{"type":"rect","opacity":1,"strokeWidth":0.6},"encoding":{
"x":{"field":"c","type":"ordinal","scale":{"paddingInner":0,"paddingOuter":0},"axis":{"orient":"bottom","title":null,"labelAngle":0,"labelFontSize":20,"tickSize":-17,"tickWidth":2,"domainWidth":4,"labelPadding":36,"zindex":1}},
"y":{"field":"r","type":"ordinal","scale":{"paddingInner":0,"paddingOuter":0.001},"axis":{"orient":"left","title":null,"values":[0,20,40,60,80],"labelFontSize":20,"tickSize":-15,"tickWidth":2,"domainWidth":4,"labelPadding":33,"zindex":1}},
"fill":{"field":"v","type":"quantitative","legend":null,"scale":{"domain":[0,93,190,255],"range":["#0b0000","#ff0000","#ffff00","#ffffff"],"interpolate":"rgb"}},
"stroke":{"field":"v","type":"quantitative","legend":null,"scale":{"domain":[0,93,190,255],"range":["#0b0000","#ff0000","#ffff00","#ffffff"],"interpolate":"rgb"}}}},
{"mark":{"type":"rect","opacity":0},"encoding":{
"x":{"field":"c","type":"ordinal","scale":{"paddingInner":0,"paddingOuter":0},"axis":{"orient":"top","title":null,"labels":false,"tickSize":-17,"tickWidth":2,"domainWidth":4,"zindex":1}},
"y":{"field":"r","type":"ordinal","scale":{"paddingInner":0,"paddingOuter":0.001},"axis":{"orient":"right","title":null,"labels":false,"values":[0,20,40,60,80],"tickSize":-15,"tickWidth":2,"domainWidth":4,"zindex":1}}}}
]},
{"width":48,"height":955,"data":{"name":"bar"},
"resolve":{"scale":{"x":"independent","y":"independent"},"axis":{"x":"independent","y":"independent"}},
"layer":[
{"mark":{"type":"rect","opacity":1,"strokeWidth":0.7},"encoding":{
"x":{"field":"k","type":"ordinal","scale":{"paddingInner":0,"paddingOuter":0},"axis":{"orient":"bottom","title":null,"labels":false,"ticks":false,"domainWidth":4,"zindex":1}},
"y":{"field":"v","type":"ordinal","sort":"descending","scale":{"paddingInner":0,"paddingOuter":0},"axis":{"orient":"right","title":null,"values":[0,30,60,90,120,150,180,210,240],"labelFontSize":42,"tickSize":-15,"tickWidth":2,"domainWidth":4,"labelPadding":32,"zindex":1}},
"fill":{"field":"v","type":"quantitative","legend":null,"scale":{"domain":[0,93,190,255],"range":["#0b0000","#ff0000","#ffff00","#ffffff"],"interpolate":"rgb"}},
"stroke":{"field":"v","type":"quantitative","legend":null,"scale":{"domain":[0,93,190,255],"range":["#0b0000","#ff0000","#ffff00","#ffffff"],"interpolate":"rgb"}}}},
{"mark":{"type":"rect","opacity":0},"encoding":{
"x":{"field":"k","type":"ordinal","scale":{"paddingInner":0,"paddingOuter":0},"axis":{"orient":"top","title":null,"labels":false,"ticks":false,"domainWidth":4,"zindex":1}},
"y":{"field":"v","type":"ordinal","sort":"descending","scale":{"paddingInner":0,"paddingOuter":0},"axis":{"orient":"left","title":null,"labels":false,"ticks":false,"domainWidth":4,"zindex":1}}}}
]}
]}
